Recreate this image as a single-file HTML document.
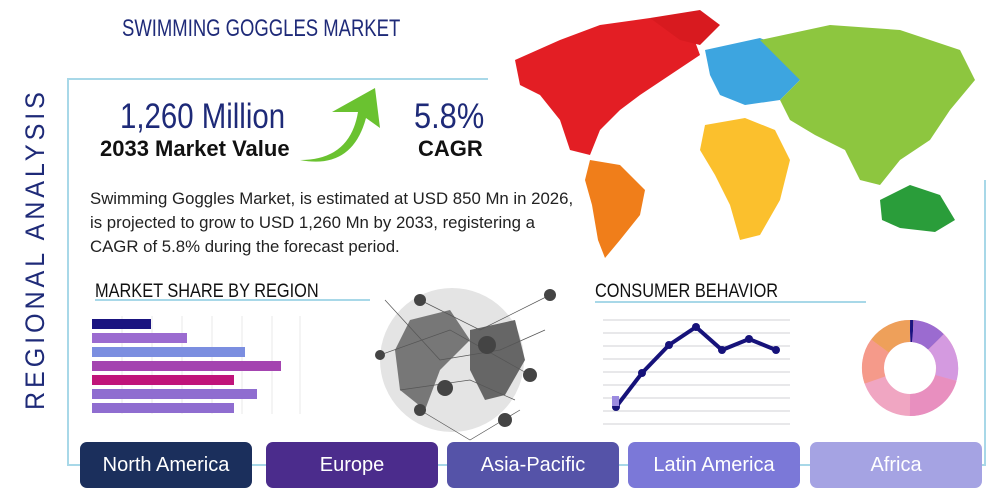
<!DOCTYPE html>
<html><head><meta charset="utf-8"><style>
body{margin:0;width:1000px;height:500px;background:#fff;overflow:hidden;position:relative;font-family:"Liberation Sans",sans-serif}
.a{position:absolute;white-space:nowrap;transform-origin:0 0}
.btn{position:absolute;top:442px;height:46px;width:172px;border-radius:7px;color:#fff;font-size:20px;text-align:center;line-height:46px}
</style></head><body>
<svg class="a" style="left:0;top:0" width="1000" height="500">
<path d="M488 79 H68 V465 H985 V180" fill="none" stroke="#a8d8e8" stroke-width="2"/>
<path d="M515 60 L560 40 L600 25 L650 18 L690 28 L700 55 L670 75 L640 95 L620 110 L600 130 L590 155 L570 150 L560 120 L540 95 L520 85 Z" fill="#e31e24"/>
<path d="M650 18 L700 10 L720 25 L700 45 L680 40 Z" fill="#d81a1f"/>
<path d="M590 160 L620 165 L645 190 L640 215 L620 240 L605 258 L598 240 L592 205 L585 180 Z" fill="#f07e1a"/>
<path d="M705 50 L760 38 L790 50 L800 80 L780 100 L745 105 L720 95 L710 75 Z" fill="#3da5e0"/>
<path d="M760 40 L830 25 L900 30 L960 50 L975 80 L950 110 L930 140 L900 160 L880 185 L860 180 L845 150 L815 135 L790 120 L780 100 L800 80 Z" fill="#8dc63f"/>
<path d="M705 125 L745 118 L775 130 L790 160 L780 200 L760 235 L740 240 L730 205 L715 175 L700 150 Z" fill="#fbc02d"/>
<path d="M880 200 L910 185 L940 195 L955 220 L935 232 L900 228 L882 220 Z" fill="#2a9d3a"/>
<g stroke="#e8e8ea" stroke-width="1">
<line x1="122" y1="316" x2="122" y2="414"/><line x1="152" y1="316" x2="152" y2="414"/><line x1="182" y1="316" x2="182" y2="414"/><line x1="212" y1="316" x2="212" y2="414"/><line x1="242" y1="316" x2="242" y2="414"/><line x1="272" y1="316" x2="272" y2="414"/><line x1="300" y1="316" x2="300" y2="414"/>
</g>
<rect x="92" y="319" width="59" height="10" fill="#1a1480"/>
<rect x="92" y="333" width="95" height="10" fill="#9b6bd0"/>
<rect x="92" y="347" width="153" height="10" fill="#7b8ee0"/>
<rect x="92" y="361" width="189" height="10" fill="#a444b0"/>
<rect x="92" y="375" width="142" height="10" fill="#c0147a"/>
<rect x="92" y="389" width="165" height="10" fill="#8f6dd0"/>
<rect x="92" y="403" width="142" height="10" fill="#8f6dd0"/>
<line x1="95" y1="300" x2="370" y2="300" stroke="#a8d8e8" stroke-width="2"/>
<line x1="595" y1="302" x2="866" y2="302" stroke="#a8d8e8" stroke-width="2"/>
<circle cx="452" cy="360" r="72" fill="#e4e4e4"/>
<path d="M410 320 L450 310 L470 340 L440 370 L425 410 L400 390 L395 350 Z" fill="#777"/>
<path d="M470 330 L515 320 L525 360 L505 395 L485 400 L470 370 Z" fill="#666"/>
<g stroke="#555" stroke-width="0.7" fill="none">
<path d="M420 300 L480 330 L550 295 M380 355 L450 330 L530 375 M420 410 L470 440 L520 410 M385 300 L440 360 L500 350 L545 330 M400 390 L470 380 L515 400"/>
</g>
<g fill="#444"><circle cx="420" cy="300" r="6"/><circle cx="550" cy="295" r="6"/><circle cx="380" cy="355" r="5"/><circle cx="530" cy="375" r="7"/><circle cx="420" cy="410" r="6"/><circle cx="445" cy="388" r="8"/><circle cx="505" cy="420" r="7"/><circle cx="487" cy="345" r="9"/></g>
<g stroke="#d0d0d4" stroke-width="1">
<line x1="603" y1="320" x2="790" y2="320"/><line x1="603" y1="333" x2="790" y2="333"/><line x1="603" y1="346" x2="790" y2="346"/><line x1="603" y1="359" x2="790" y2="359"/><line x1="603" y1="372" x2="790" y2="372"/><line x1="603" y1="385" x2="790" y2="385"/><line x1="603" y1="398" x2="790" y2="398"/><line x1="603" y1="411" x2="790" y2="411"/><line x1="603" y1="424" x2="790" y2="424"/>
</g>
<polyline points="616,407 642,373 669,345 696,327 722,350 749,339 776,350" fill="none" stroke="#16127a" stroke-width="4"/>
<g fill="#16127a"><circle cx="616" cy="407" r="4"/><circle cx="642" cy="373" r="4"/><circle cx="669" cy="345" r="4"/><circle cx="696" cy="327" r="4"/><circle cx="722" cy="350" r="4"/><circle cx="749" cy="339" r="4"/><circle cx="776" cy="350" r="4"/></g>
<rect x="612" y="396" width="7" height="10" fill="#9b8be0"/>
<g transform="translate(910,368)" stroke-width="22" fill="none">
<circle r="37" stroke="#f0a6c2"/>
<path d="M0 -37 A37 37 0 0 1 3 -37" stroke="#1a1480"/>
<path d="M3 -37 A37 37 0 0 1 26 -26" stroke="#9b6bd0"/>
<path d="M26 -26 A37 37 0 0 1 36 10" stroke="#d49ae0"/>
<path d="M36 10 A37 37 0 0 1 0 37" stroke="#e88fbf"/>
<path d="M-35 12 A37 37 0 0 1 -30 -22" stroke="#f59a8a"/>
<path d="M-30 -22 A37 37 0 0 1 0 -37" stroke="#eea05a"/>
</g>
<path d="M300 160 Q350 160 358 112 L332 112 L375 88 L380 128 L366 118 Q352 170 300 160 Z" fill="#6ac230"/>
</svg>
<div class="a" style="left:20px;top:410px;transform:rotate(-90deg) scaleX(0.93);color:#1e2a78;font-size:27px;letter-spacing:4.2px">REGIONAL ANALYSIS</div>
<div class="a" style="left:122px;top:15px;transform:scaleX(0.77);color:#1e2a78;font-size:24px">SWIMMING GOGGLES MARKET</div>
<div class="a" style="left:120px;top:97px;transform:scaleX(0.84);color:#1e2a78;font-size:35px">1,260 Million</div>
<div class="a" style="left:100px;top:136px;color:#111;font-size:22px;font-weight:bold">2033 Market Value</div>
<div class="a" style="left:414px;top:97px;transform:scaleX(0.88);color:#1e2a78;font-size:35px">5.8%</div>
<div class="a" style="left:418px;top:136px;color:#111;font-size:22px;font-weight:bold">CAGR</div>
<div class="a" style="left:90px;top:187px;color:#222;font-size:16.8px;line-height:24px">Swimming Goggles Market, is estimated at USD 850 Mn in 2026,<br>is projected to grow to USD 1,260 Mn by 2033, registering a<br>CAGR of 5.8% during the forecast period.</div>
<div class="a" style="left:95px;top:281px;transform:scaleX(0.86);color:#111;font-size:19px">MARKET SHARE BY REGION</div>
<div class="a" style="left:595px;top:281px;transform:scaleX(0.86);color:#111;font-size:19px">CONSUMER BEHAVIOR</div>
<div class="btn" style="left:80px;background:#1b2f5c">North America</div>
<div class="btn" style="left:266px;background:#4b2c8c">Europe</div>
<div class="btn" style="left:447px;background:#5553a8">Asia-Pacific</div>
<div class="btn" style="left:628px;background:#7b78d8">Latin America</div>
<div class="btn" style="left:810px;background:#a5a3e3">Africa</div>
</body></html>
